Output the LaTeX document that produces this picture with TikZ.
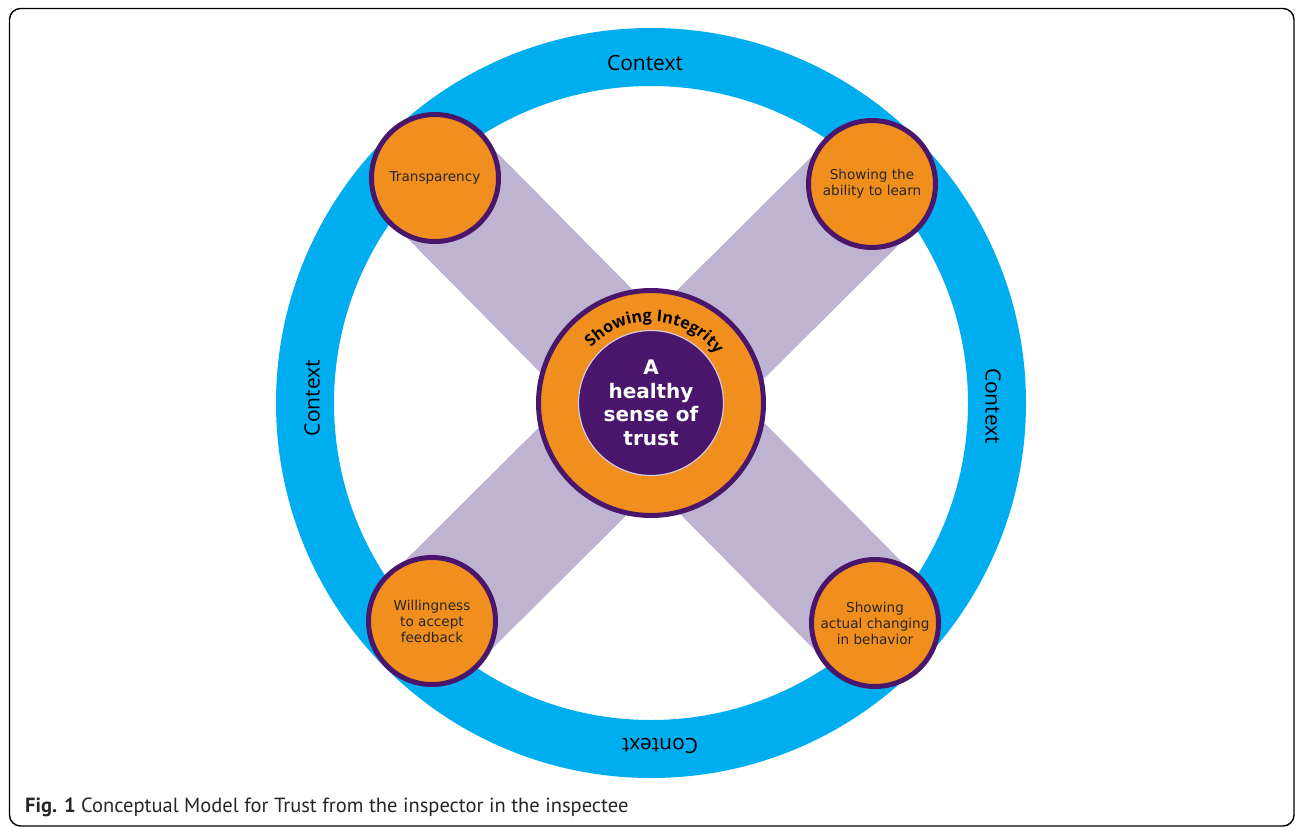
\documentclass[tikz,border=0pt]{standalone}
\usepackage{fontspec}
\setmainfont{DejaVu Sans}
\newfontfamily\ctxfont{Open Sans}
\newfontfamily\capfont{PT Sans}
\usepackage{tikz}
\usetikzlibrary{decorations.text}

\definecolor{ringblue}{RGB}{0,174,239}
\definecolor{lilac}{RGB}{190,180,210}
\definecolor{trustorange}{RGB}{241,143,30}
\definecolor{trustpurple}{RGB}{74,22,108}

\begin{document}
\begin{tikzpicture}[x=1pt,y=-1pt,
  pillar/.style={circle, fill=trustorange, draw=trustpurple, line width=5pt,
    minimum size=127pt, inner sep=0pt, align=center, text=black!85,
    font=\fontsize{13.6}{16}\selectfont},
  band/.style={draw=lilac, line width=124pt},
  context/.style={font=\ctxfont\fontsize{21}{21}\selectfont}]
\useasboundingbox (0,0) rectangle (1296,828);
\draw[line width=1.4pt, rounded corners=11pt] (9.5,8.5) rectangle (1294,826);

% context ring
\coordinate (mid) at (651,403);
\fill[ringblue, even odd rule] (mid) circle[radius=375] (mid) circle[radius=317];
\node[context] (ctxtop) at (645,63) {Context};
\node[context, rotate=90] (ctxleft) at (312,398) {Context};
\node[context, rotate=-90] (ctxright) at (993,406) {Context};
\node[context, rotate=180] (ctxbottom) at (660,746) {Context};

% the two crossing bands
\coordinate (tl) at (435,178);
\coordinate (tr) at (872,184);
\coordinate (bl) at (432,621);
\coordinate (br) at (875,623);
\path[band] (tl) -- (br);
\path[band] (tr) -- (bl);

% centre
\node[circle, fill=trustorange, draw=trustpurple, line width=5pt,
  minimum size=225pt] (integrity) at (mid) {};
\node[circle, fill=trustpurple, draw=lilac!70, line width=1.2pt,
  minimum size=145pt, inner sep=0pt, align=center, text=white,
  font=\bfseries\fontsize{20}{23.5}\selectfont] (trust) at (mid)
  {A\\healthy\\sense of\\trust};
\path[decorate, decoration={text along path, text align=center,
  text={|\ctxfont\bfseries\fontsize{16.2}{16}\selectfont|Showing Integrity}}]
  (mid) ++(183:81.5) arc[start angle=183, end angle=363, radius=81.5];

% pillars
\node[pillar] (transparency) at (tl) {Transparency};
\node[pillar] (learn) at (tr) {Showing the\\ability to learn};
\node[pillar] (feedback) at (bl) {Willingness\\to accept\\feedback};
\node[pillar] (behavior) at (br) {Showing\\actual changing\\in behavior};

% caption
\node[anchor=base west, inner sep=0pt, text=black!85,
  font=\capfont\fontsize{20.5}{20.5}\selectfont] (caption) at (25,812)
  {\textbf{Fig. 1} Conceptual Model for Trust from the inspector in the inspectee};
\end{tikzpicture}
\end{document}
